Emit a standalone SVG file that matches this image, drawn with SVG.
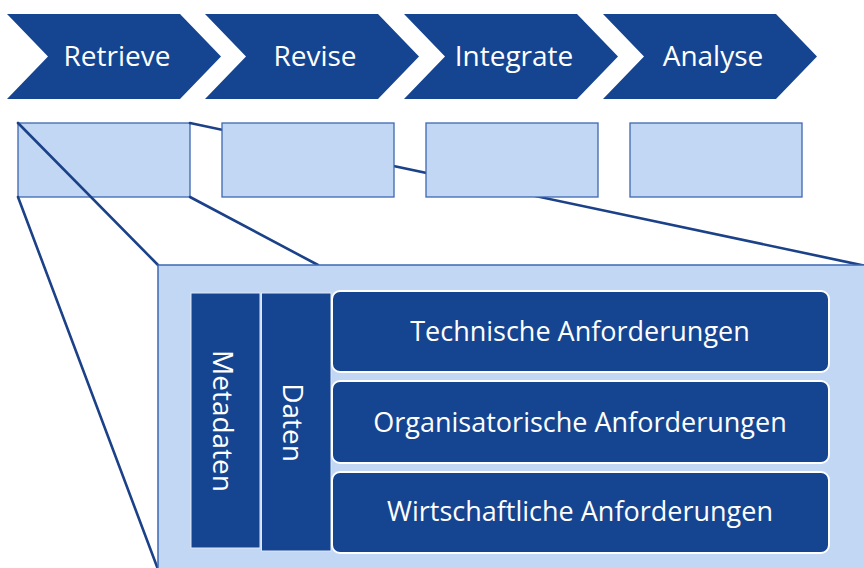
<svg xmlns="http://www.w3.org/2000/svg" width="864" height="568" viewBox="0 0 864 568">
<style>
.chev{fill:#154591}
.lbl{font-family:"Open Sans","Noto Sans",sans-serif;font-size:28px;fill:#ffffff;text-anchor:middle}
.rl{font-size:27px}
.sbox{fill:#c2d7f4;stroke:#3d68b3;stroke-width:1.3}
.conn{stroke:#1b4189;stroke-width:2.6;fill:none;stroke-linecap:round}
.panel{fill:#c2d7f4;stroke:#3d68b3;stroke-width:1.5}
.col{fill:#154591;stroke:#dfe8f7;stroke-width:1}
.req{fill:#154591;stroke:#ffffff;stroke-width:2}
</style>
<rect width="864" height="568" fill="#ffffff"/>
<g id="retrieve"><polygon class="chev" points="7,14 180,14 221,56.5 180,99 7,99 48,56.5"/><text class="lbl" x="117" y="66">Retrieve</text></g>
<g id="revise"><polygon class="chev" points="205,14 378,14 419,56.5 378,99 205,99 246,56.5"/><text class="lbl" x="315" y="66">Revise</text></g>
<g id="integrate"><polygon class="chev" points="404,14 577,14 618,56.5 577,99 404,99 445,56.5"/><text class="lbl" x="514" y="66">Integrate</text></g>
<g id="analyse"><polygon class="chev" points="603,14 776,14 817,56.5 776,99 603,99 644,56.5"/><text class="lbl" x="713" y="66">Analyse</text></g>
<g id="box1"><rect class="sbox" x="18" y="123" width="172" height="74"/></g>
<g id="connectors">
<line class="conn" x1="18" y1="123" x2="158" y2="265"/>
<line class="conn" x1="18" y1="197" x2="159" y2="572"/>
<line class="conn" x1="190" y1="197" x2="318" y2="265"/>
<line class="conn" x1="190" y1="123" x2="866" y2="266"/>
</g>
<g id="box2"><rect class="sbox" x="222" y="123" width="172" height="74"/></g>
<g id="box3"><rect class="sbox" x="426" y="123" width="172" height="74"/></g>
<g id="box4"><rect class="sbox" x="630" y="123" width="172" height="74"/></g>
<g id="panel"><rect class="panel" x="158" y="265" width="720" height="320"/></g>
<g id="metadaten"><rect class="col" x="191" y="293" width="69" height="255"/><text class="lbl" transform="translate(213,421) rotate(90)">Metadaten</text></g>
<g id="daten"><rect class="col" x="261.5" y="293" width="69.5" height="258"/><text class="lbl" transform="translate(283,422.5) rotate(90)">Daten</text></g>
<g id="technische"><rect class="req" x="332" y="291" width="497" height="81" rx="8"/><text class="lbl rl" x="580" y="341">Technische Anforderungen</text></g>
<g id="organisatorische"><rect class="req" x="332" y="381" width="497" height="82" rx="8"/><text class="lbl rl" x="580" y="432">Organisatorische Anforderungen</text></g>
<g id="wirtschaftliche"><rect class="req" x="332" y="472" width="497" height="81" rx="8"/><text class="lbl rl" x="580" y="521">Wirtschaftliche Anforderungen</text></g>
</svg>
